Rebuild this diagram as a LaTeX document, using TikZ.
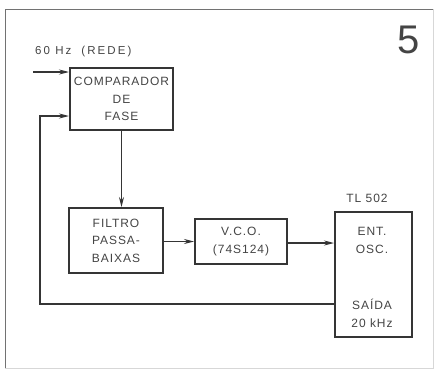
\documentclass[tikz,border=0pt]{standalone}
\usepackage{fontspec}
\usepackage{xcolor}
\usepackage{tikz}
\usetikzlibrary{arrows.meta}
\setmainfont{Liberation Sans}[LetterSpace=8]
\definecolor{tinta}{HTML}{353535}
\definecolor{letra}{HTML}{444444}

\begin{document}
\begin{tikzpicture}[x=1pt, y=-1pt,
    bloco/.style={draw=tinta, line width=2pt, rectangle, inner sep=0pt, text=letra, align=center,
                  font=\fontsize{12}{17.5}\selectfont},
    rotulo/.style={text=letra, inner sep=0pt, font=\fontsize{12}{17.5}\selectfont},
    seta/.style={draw=tinta, line width=1.2pt, -{Stealth[length=10pt, width=5pt]}}]
    \useasboundingbox (0,0) rectangle (438,372);

    % Frame
    \draw[tinta!70, line width=1pt] (5,368) -- (5,9) -- (433,9);
    \draw[tinta!20, line width=0.8pt] (433,9) -- (433,368) -- (5,368);

    % Figure number
    \node[text=letra, font=\fontsize{40}{40}\selectfont\addfontfeature{LetterSpace=0}] (num) at (409,40) {5};

    % Phase comparator
    \node[bloco, minimum width=103pt, minimum height=62pt] (comp) at (121.5,99) {COMPARADOR\\DE\\FASE};

    % Low-pass filter
    \node[bloco, minimum width=94pt, minimum height=65pt] (filtro) at (116,240.5) {FILTRO\\PASSA-\\BAIXAS};

    % VCO
    \node[bloco, minimum width=92pt, minimum height=45pt] (vco) at (241,241.5) {V.C.O.\\(74S124)};

    % TL 502
    \node[bloco, minimum width=77pt, minimum height=125pt] (tl) at (373.5,274.5) {};
    \node[rotulo] (tlnome) at (367,198) {TL 502};
    \node[rotulo, align=center] (tlent) at (372,240.5) {ENT.\\OSC.};
    \node[rotulo, align=center] (tlsai) at (372,313.5) {SAÍDA\\20 kHz};

    % Mains input
    \coordinate (rede) at (33,72);
    \node[rotulo, anchor=west, font=\fontsize{11.5}{14}\selectfont\addfontfeature{LetterSpace=18}] (redetxt) at (35,52) {60 Hz\hspace{10pt}(REDE)};

    % Arrows
    \draw[seta] (rede) -- (rede -| comp.west);
    \draw[seta] (comp.south) -- (comp.south |- filtro.north);
    \draw[seta] (filtro.east |- vco.west) -- (vco.west);
    \draw[seta] ([yshift=-1.5pt]vco.east) -- ([yshift=-1.5pt]vco.east -| tl.west);
    \draw[seta] ([yshift=-29.5pt]tl.west) -| (40,116) -- ([yshift=-17pt]comp.west);
\end{tikzpicture}
\end{document}
